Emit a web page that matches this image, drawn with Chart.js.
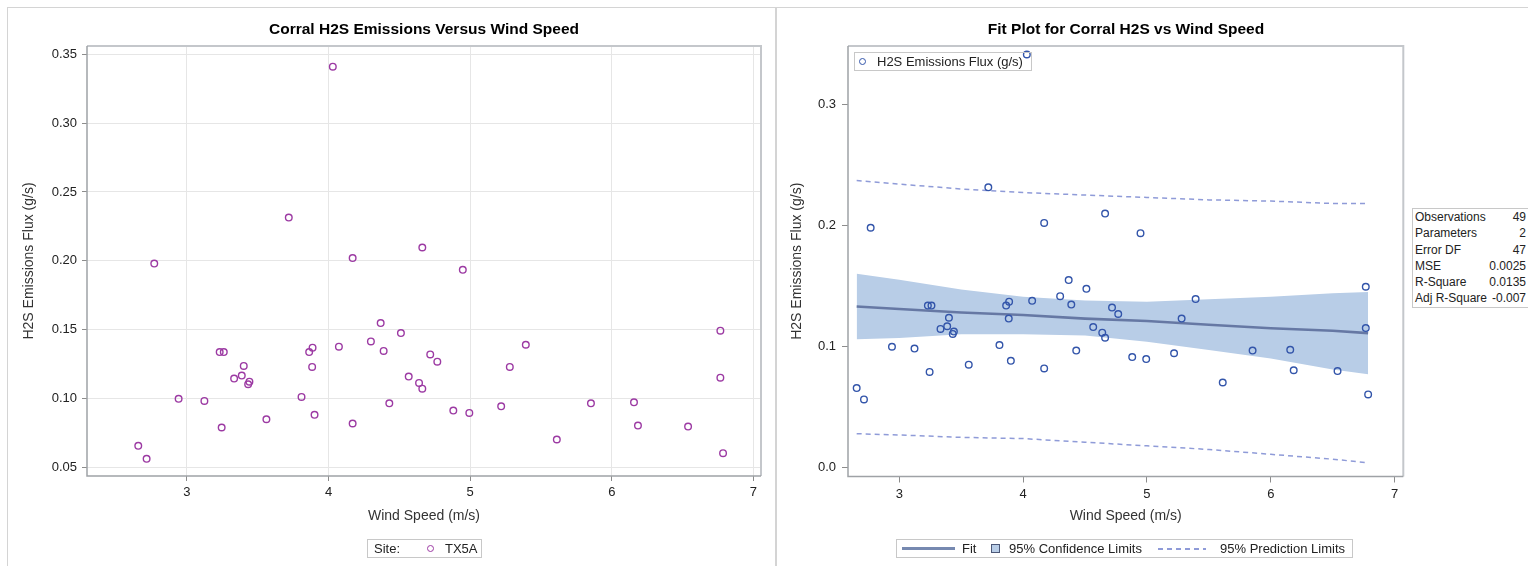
<!DOCTYPE html>
<html>
<head>
<meta charset="utf-8">
<title>Corral H2S Emissions</title>
<script src="https://cdn.jsdelivr.net/npm/chart.js@4.4.0/dist/chart.umd.min.js"></script>
<style>
  body { margin: 0; background: #fff; }
  #wrap { position: relative; width: 1528px; height: 566px; overflow: hidden;
          font-family: 'Liberation Sans', Arial, sans-serif; color: #222; }
  .abs { position: absolute; }
  .panel { position: absolute; border: 1px solid #d4d4d4; border-bottom: none; }
  .title { position: absolute; width: 600px; text-align: center; font-weight: bold;
           font-size: 15.5px; line-height: 18px; color: #000; }
  .legend { position: absolute; border: 1px solid #c8c8c8; font-size: 13px; line-height: 17px; }
  .legend span { position: absolute; top: 0; white-space: nowrap; }
  .ring { position: absolute; width: 5.2px; height: 5.2px; border-radius: 50%; }
  #stats { position: absolute; left: 1412px; top: 208px; border: 1px solid #c8c8c8;
           font-size: 12px; border-collapse: collapse; background: #fff; width: 122px; }
  #stats td { padding: 0 0 0 2px; height: 16.3px; line-height: 16.3px; white-space: nowrap; }
  #stats td.v { text-align: right; padding: 0 7px 0 0; }
</style>
</head>
<body>
<div id="wrap">
  <div class="panel" style="left:7px;top:7px;width:767px;height:580px"></div>
  <div class="panel" style="left:776px;top:7px;width:760px;height:580px;border-right:none"></div>

  <canvas id="left" class="abs" width="775" height="566" style="left:0;top:0"></canvas>
  <canvas id="right" class="abs" width="752" height="566" style="left:776px;top:0"></canvas>

  <div class="title" style="left:124px;top:20px">Corral H2S Emissions Versus Wind Speed</div>
  <div class="title" style="left:826px;top:20px">Fit Plot for Corral H2S vs Wind Speed</div>

  <div class="legend" style="left:367px;top:539px;width:113px;height:17px">
    <span style="left:6px">Site:</span>
    <div class="ring" style="left:59px;top:4.6px;border:1.4px solid #9c3aa3"></div>
    <span style="left:77px">TX5A</span>
  </div>

  <div class="legend" style="left:896px;top:539px;width:455px;height:17px">
    <div class="abs" style="left:5px;top:7.3px;width:53px;height:2.6px;background:#7689b0"></div>
    <span style="left:65px">Fit</span>
    <div class="abs" style="left:94px;top:4px;width:7px;height:7px;background:#b8cde7;border:1px solid #4c5878"></div>
    <span style="left:112px">95% Confidence Limits</span>
    <div class="abs" style="left:261px;top:8px;width:48px;height:1.5px;background:repeating-linear-gradient(to right,#8f9bd8 0 5px,transparent 5px 9px)"></div>
    <span style="left:323px">95% Prediction Limits</span>
  </div>

  <div class="legend" style="left:854px;top:52px;width:176px;height:17px">
    <div class="ring" style="left:4px;top:4.6px;border:1.4px solid #3355aa"></div>
    <span style="left:22px">H2S Emissions Flux (g/s)</span>
  </div>

  <table id="stats"></table>
</div>

<script>
// observations (wind speed m/s, flux g/s)
var windSpeed = [2.656, 2.715, 2.769, 2.941, 3.123, 3.231, 3.245, 3.260, 3.333, 3.387,
                 3.401, 3.432, 3.441, 3.561, 3.719, 3.809, 3.863, 3.884, 3.887, 3.901,
                 4.030, 4.073, 4.170, 4.170, 4.299, 4.368, 4.389, 4.429, 4.511, 4.566,
                 4.639, 4.662, 4.662, 4.718, 4.768, 4.881, 4.948, 4.994, 5.219, 5.280,
                 5.393, 5.612, 5.853, 6.157, 6.185, 6.539, 6.767, 6.767, 6.786];
var h2sFlux = [0.0657, 0.0563, 0.1980, 0.0998, 0.0983, 0.1338, 0.0790, 0.1338, 0.1145, 0.1167,
               0.1237, 0.1104, 0.1123, 0.0850, 0.2314, 0.1012, 0.1338, 0.1230, 0.1370, 0.0882,
               0.3410, 0.1377, 0.2020, 0.0819, 0.1415, 0.1548, 0.1346, 0.0966, 0.1476, 0.1160,
               0.1114, 0.2097, 0.1072, 0.1321, 0.1268, 0.0913, 0.1935, 0.0896, 0.0944, 0.1230,
               0.1391, 0.0703, 0.0966, 0.0973, 0.0804, 0.0797, 0.1493, 0.1152, 0.0604];

// fit line, confidence band and prediction limits
var bandX   = [2.656, 3.0, 3.5, 4.0, 4.5, 5.0, 5.5, 6.0, 6.5, 6.786];
var fitY    = [0.133, 0.131, 0.128, 0.126, 0.123, 0.121, 0.118, 0.115, 0.113, 0.111];
var clUpper = [0.160, 0.155, 0.147, 0.141, 0.138, 0.137, 0.139, 0.141, 0.144, 0.145];
var clLower = [0.106, 0.107, 0.110, 0.110, 0.109, 0.104, 0.097, 0.090, 0.081, 0.077];
var plUpper = [0.237, 0.234, 0.230, 0.227, 0.225, 0.223, 0.221, 0.220, 0.218, 0.218];
var plLower = [0.028, 0.027, 0.025, 0.024, 0.021, 0.018, 0.015, 0.011, 0.007, 0.004];

var xTicks = [3, 4, 5, 6, 7];
var leftYTicks = [0.05, 0.10, 0.15, 0.20, 0.25, 0.30, 0.35];
var rightYTicks = [0.0, 0.1, 0.2, 0.3];

var statLabels = ['Observations', 'Parameters', 'Error DF', 'MSE', 'R-Square', 'Adj R-Square'];
var statValues = ['49', '2', '47', '0.0025', '0.0135', '-0.007'];

Chart.defaults.font.family = "'Liberation Sans', Arial, sans-serif";
Chart.defaults.color = '#222';

function pairs(xs, ys) {
  return xs.map(function (x, i) { return {x: x, y: ys[i]}; });
}

// frame around the plot area, like the SAS wall
var frame = {
  id: 'frame',
  afterDraw: function (chart) {
    var ctx = chart.ctx, a = chart.chartArea;
    ctx.save();
    ctx.strokeStyle = '#c4c7cb';
    ctx.lineWidth = 2;
    ctx.beginPath();
    ctx.moveTo(a.left, a.top); ctx.lineTo(a.right, a.top); ctx.lineTo(a.right, a.bottom);
    ctx.stroke();
    ctx.strokeStyle = '#9fa2a6';
    ctx.lineWidth = 1.5;
    ctx.beginPath();
    ctx.moveTo(a.left, a.top); ctx.lineTo(a.left, a.bottom); ctx.lineTo(a.right, a.bottom);
    ctx.stroke();
    ctx.restore();
  }
};

function axes(o) {
  return {
    x: {
      type: 'linear', min: o.xmin, max: o.xmax,
      afterFit: function (s) { s.height = o.xh; },
      afterBuildTicks: function (s) { s.ticks = xTicks.map(function (v) { return {value: v}; }); },
      ticks: {padding: 4, font: {size: 13}, maxRotation: 0, callback: function (v) { return v; }},
      grid: {display: true, drawOnChartArea: o.grid, color: '#e6e6e6', tickColor: '#8c8c8c', tickLength: o.tick},
      border: {display: false},
      title: {display: true, text: 'Wind Speed (m/s)', font: {size: 14}, color: '#333',
              padding: {top: 0, bottom: 41.6}}
    },
    y: {
      type: 'linear', min: o.ymin, max: o.ymax,
      afterFit: function (s) { s.width = o.yw; },
      afterBuildTicks: function (s) { s.ticks = o.yTicks.map(function (v) { return {value: v}; }); },
      ticks: {padding: o.pad, font: {size: 13}, callback: function (v) { return v.toFixed(o.dec); }},
      grid: {display: true, drawOnChartArea: o.grid, color: '#e6e6e6', tickColor: '#8c8c8c', tickLength: o.tick},
      border: {display: false},
      title: {display: true, text: 'H2S Emissions Flux (g/s)', font: {size: 14}, color: '#333',
              padding: {top: o.ytp, bottom: 0}}
    }
  };
}

var ring = {pointStyle: 'circle', pointRadius: 3.3, pointBorderWidth: 1.4,
            backgroundColor: 'rgba(0,0,0,0)', pointHoverRadius: 3.3};

new Chart(document.getElementById('left'), {
  type: 'scatter',
  data: {
    datasets: [Object.assign({
      label: 'TX5A',
      data: pairs(windSpeed, h2sFlux),
      borderColor: '#9c3aa3'
    }, ring)]
  },
  options: {
    responsive: false, animation: false, devicePixelRatio: 1,
    layout: {padding: {top: 46, right: 14, bottom: 0, left: 0}},
    plugins: {legend: {display: false}, tooltip: {enabled: false}},
    scales: axes({xmin: 2.294, xmax: 7.054, ymin: 0.0438, ymax: 0.356, xh: 90, yw: 87,
                  yTicks: leftYTicks, dec: 2, pad: 5, tick: 5, grid: true, ytp: 20.6})
  },
  plugins: [frame]
});

var line = {type: 'line', pointRadius: 0, tension: 0, pointHoverRadius: 0};

new Chart(document.getElementById('right'), {
  type: 'scatter',
  data: {
    datasets: [
      Object.assign({label: 'CL lower', data: pairs(bandX, clLower), borderWidth: 0,
                     borderColor: 'rgba(0,0,0,0)', fill: false, order: 4}, line),
      Object.assign({label: '95% Confidence Limits', data: pairs(bandX, clUpper), borderWidth: 0,
                     borderColor: 'rgba(0,0,0,0)', backgroundColor: '#b8cde7', fill: '-1', order: 4}, line),
      Object.assign({label: 'Fit', data: pairs(bandX, fitY), borderColor: '#6678a4',
                     borderWidth: 2.6, fill: false, order: 2}, line),
      Object.assign({label: '95% Prediction Limits', data: pairs(bandX, plUpper), borderColor: '#8f9bd8',
                     borderWidth: 1.5, borderDash: [5, 4], fill: false, order: 3}, line),
      Object.assign({label: 'PL lower', data: pairs(bandX, plLower), borderColor: '#8f9bd8',
                     borderWidth: 1.5, borderDash: [5, 4], fill: false, order: 3}, line),
      Object.assign({label: 'H2S Emissions Flux (g/s)', data: pairs(windSpeed, h2sFlux),
                     borderColor: '#3355aa', order: 0}, ring)
    ]
  },
  options: {
    responsive: false, animation: false, devicePixelRatio: 1,
    layout: {padding: {top: 46, right: 124.7, bottom: 0, left: 0}},
    plugins: {legend: {display: false}, tooltip: {enabled: false}},
    scales: axes({xmin: 2.586, xmax: 7.07, ymin: -0.0073, ymax: 0.348, xh: 89.5, yw: 72,
                  yTicks: rightYTicks, dec: 1, pad: 6, tick: 6, grid: false, ytp: 13.2})
  },
  plugins: [frame]
});

var tbl = document.getElementById('stats');
statLabels.forEach(function (lab, i) {
  var tr = document.createElement('tr');
  tr.innerHTML = '<td>' + lab + '</td><td class="v">' + statValues[i] + '</td>';
  tbl.appendChild(tr);
});
</script>
</body>
</html>
